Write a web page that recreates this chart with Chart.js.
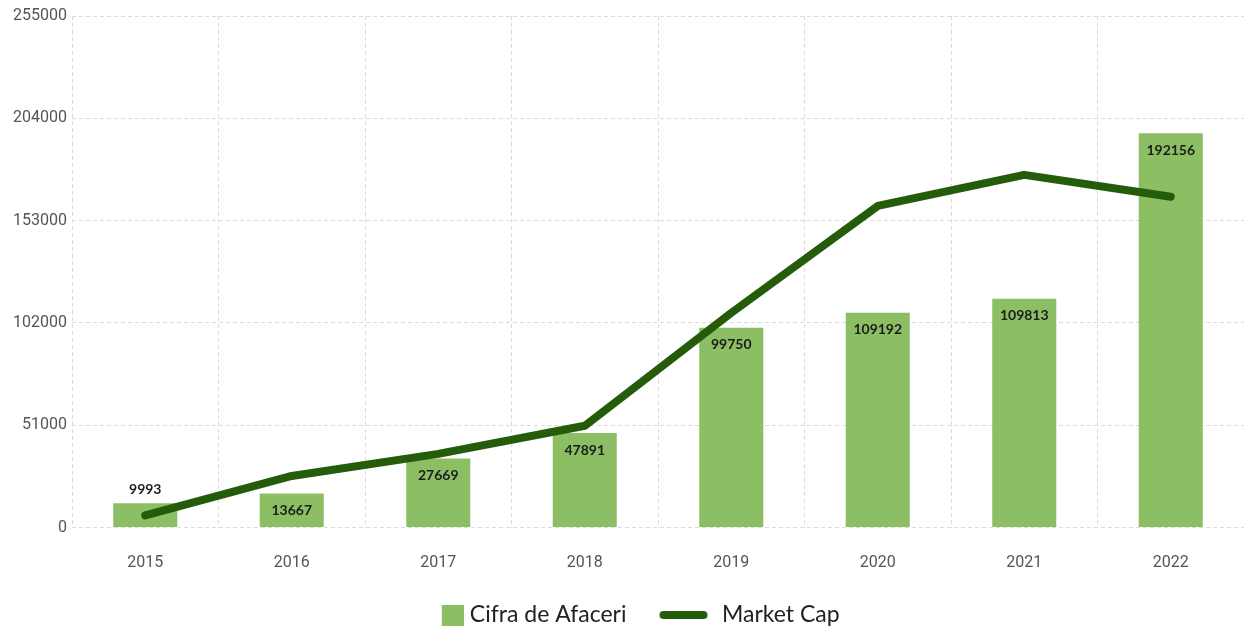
<!DOCTYPE html>
<html>
<head>
<meta charset="utf-8">
<script src="https://cdn.jsdelivr.net/npm/chart.js@4/dist/chart.umd.min.js"></script>
<style>
  html, body { margin: 0; padding: 0; background: #fff; }
  #wrap { width: 1244px; height: 630px; }
</style>
</head>
<body>
<div id="wrap"><canvas id="myChart"></canvas></div>
<script>
const years = ["2015", "2016", "2017", "2018", "2019", "2020", "2021", "2022"];
const cifraAfaceri = [12100, 16900, 34400, 47100, 99600, 107100, 114100, 196600];
const cifraLabels = ["9993", "13667", "27669", "47891", "99750", "109192", "109813", "192156"];
const marketCap = [6000, 25700, 36700, 50700, 107000, 160300, 175800, 164900];
const yTicks = [0, 51000, 102000, 153000, 204000, 255000];

const barColor = '#8cbf64';
const lineColor = '#245c0b';

// iconite pentru legenda
function makeBoxIcon() {
    const c = document.createElement('canvas');
    c.width = 65; c.height = 21;
    const g = c.getContext('2d');
    g.fillStyle = barColor;
    g.fillRect(43, 0, 22, 21);
    return c;
}
function makeLineIcon() {
    const c = document.createElement('canvas');
    c.width = 50; c.height = 10;
    const g = c.getContext('2d');
    g.strokeStyle = lineColor;
    g.lineWidth = 8;
    g.lineCap = 'round';
    g.beginPath();
    g.moveTo(5, 5);
    g.lineTo(45, 5);
    g.stroke();
    return c;
}
const legendIcons = [makeBoxIcon(), makeLineIcon()];

// etichete pe bare
const barLabels = {
    id: 'barLabels',
    afterDatasetsDraw(chart) {
        const meta = chart.getDatasetMeta(0);
        const ctx = chart.ctx;
        ctx.save();
        ctx.font = 'bold 14px Lato';
        ctx.fillStyle = '#1c1c1c';
        ctx.textAlign = 'center';
        ctx.textBaseline = 'middle';
        meta.data.forEach((bar, i) => {
            const h = bar.base - bar.y;
            const y = h < 30 ? bar.y - 14 : bar.y + 17;
            ctx.fillText(cifraLabels[i], bar.x, y);
        });
        ctx.restore();
    }
};

const ctx = document.getElementById("myChart");

const myChart = new Chart(ctx, {
    type: 'bar',
    data: {
        labels: years,
        datasets: [{
            label: 'Cifra de Afaceri',
            data: cifraAfaceri,
            backgroundColor: barColor,
            categoryPercentage: 1,
            barPercentage: 0.437,
            order: 1
        }, {
            type: 'line',
            label: 'Market Cap',
            data: marketCap,
            borderColor: lineColor,
            backgroundColor: lineColor,
            borderWidth: 8,
            borderCapStyle: 'round',
            borderJoinStyle: 'round',
            pointRadius: 0,
            tension: 0,
            order: 0
        }]
    },
    options: {
        responsive: true,
        maintainAspectRatio: false,
        animation: false,
        layout: {
            padding: { top: 16, left: 0, right: 0, bottom: -6.5 }
        },
        scales: {
            x: {
                afterFit: (scale) => { scale.height = 46; },
                grid: { color: '#dcdcdc', drawTicks: false },
                border: { display: false, dash: [4, 3] },
                ticks: {
                    color: '#555',
                    font: { family: 'Roboto', size: 16 },
                    padding: 26
                }
            },
            y: {
                min: 0,
                max: 255000,
                afterBuildTicks: (scale) => {
                    scale.ticks = yTicks.map(v => ({ value: v }));
                },
                afterFit: (scale) => { scale.width = 72; },
                grid: { color: '#dcdcdc', drawTicks: false },
                border: { display: false, dash: [4, 3] },
                ticks: {
                    color: '#555',
                    font: { family: 'Roboto', size: 16 },
                    padding: 5,
                    callback: (v) => String(v)
                }
            }
        },
        plugins: {
            legend: {
                display: true,
                position: 'bottom',
                labels: {
                    usePointStyle: true,
                    pointStyleWidth: 54,
                    padding: 30,
                    color: '#222',
                    font: { family: 'Lato', size: 23 },
                    sort: (a, b) => a.datasetIndex - b.datasetIndex,
                    generateLabels(chart) {
                        const items = Chart.defaults.plugins.legend.labels.generateLabels(chart);
                        items.forEach(it => { it.pointStyle = legendIcons[it.datasetIndex]; });
                        return items;
                    }
                }
            },
            tooltip: { enabled: false }
        }
    },
    plugins: [barLabels]
});
</script>
</body>
</html>
